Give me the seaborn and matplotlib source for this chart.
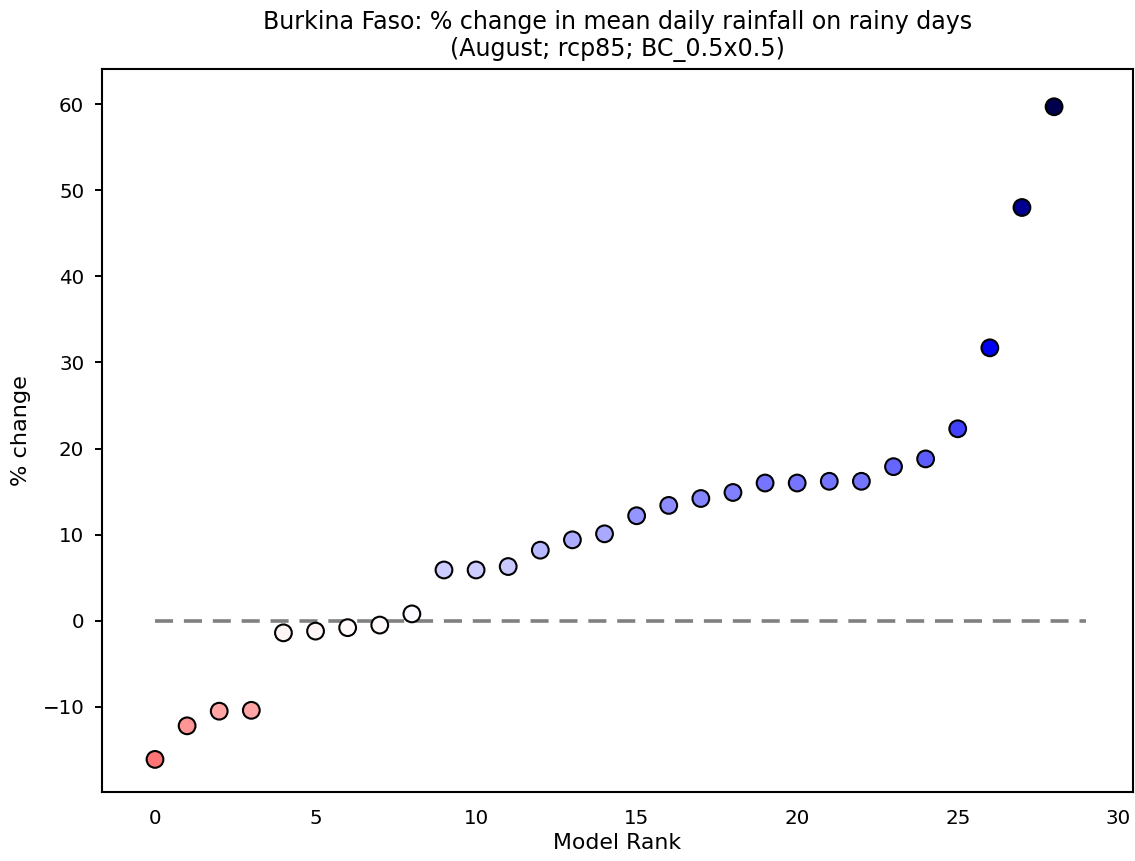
import numpy as np
import pandas as pd
import matplotlib
matplotlib.use("Agg")
import matplotlib.pyplot as plt
import seaborn as sns

# % change per model, sorted by rank
rank = list(range(29))
pct_change = [-16.1, -12.2, -10.5, -10.4, -1.4, -1.2, -0.8, -0.5, 0.8,
              5.9, 5.9, 6.3, 8.2, 9.4, 10.1, 12.2, 13.4, 14.2, 14.9,
              16.0, 16.0, 16.2, 16.2, 17.9, 18.8, 22.3, 31.7, 48.0, 59.7]
y_ticks = [-10, 0, 10, 20, 30, 40, 50, 60]
x_ticks = [0, 5, 10, 15, 20, 25, 30]

df = pd.DataFrame({"rank": rank, "pct": pct_change})

fig, ax = plt.subplots(figsize=(11.35, 8.61), dpi=100)
fig.subplots_adjust(left=0.0896, right=0.998, top=0.92, bottom=0.08)

# zero reference line
ax.plot([0, len(rank)], [0, 0], ls=(0, (5, 3)), color="grey", lw=2.6, zorder=1)

sns.scatterplot(data=df, x="rank", y="pct", hue="pct", palette="seismic_r",
                hue_norm=(-60, 60), s=145, edgecolor="black", linewidth=1.5,
                legend=False, ax=ax, zorder=3)

ax.set_xlim(-1.66, 30.45)
ax.set_ylim(-19.9, 64.1)
ax.set_xticks(x_ticks)
ax.set_yticks(y_ticks)
ax.set_yticklabels(["\u221210", "0", "10", "20", "30", "40", "50", "60"])
ax.tick_params(axis="x", length=0, pad=12, labelsize=14.3)
ax.tick_params(axis="y", length=5, width=1.4, pad=7.5, labelsize=14.3)
for sp in ax.spines.values():
    sp.set_linewidth(1.5)

ax.set_title("Burkina Faso: % change in mean daily rainfall on rainy days\n"
             "(August; rcp85; BC_0.5x0.5)", fontsize=17.1, pad=9)
ax.set_xlabel("Model Rank", fontsize=15.8, labelpad=4)
ax.set_ylabel("% change", fontsize=16.2, labelpad=8)

plt.savefig("out.png", dpi=100)
